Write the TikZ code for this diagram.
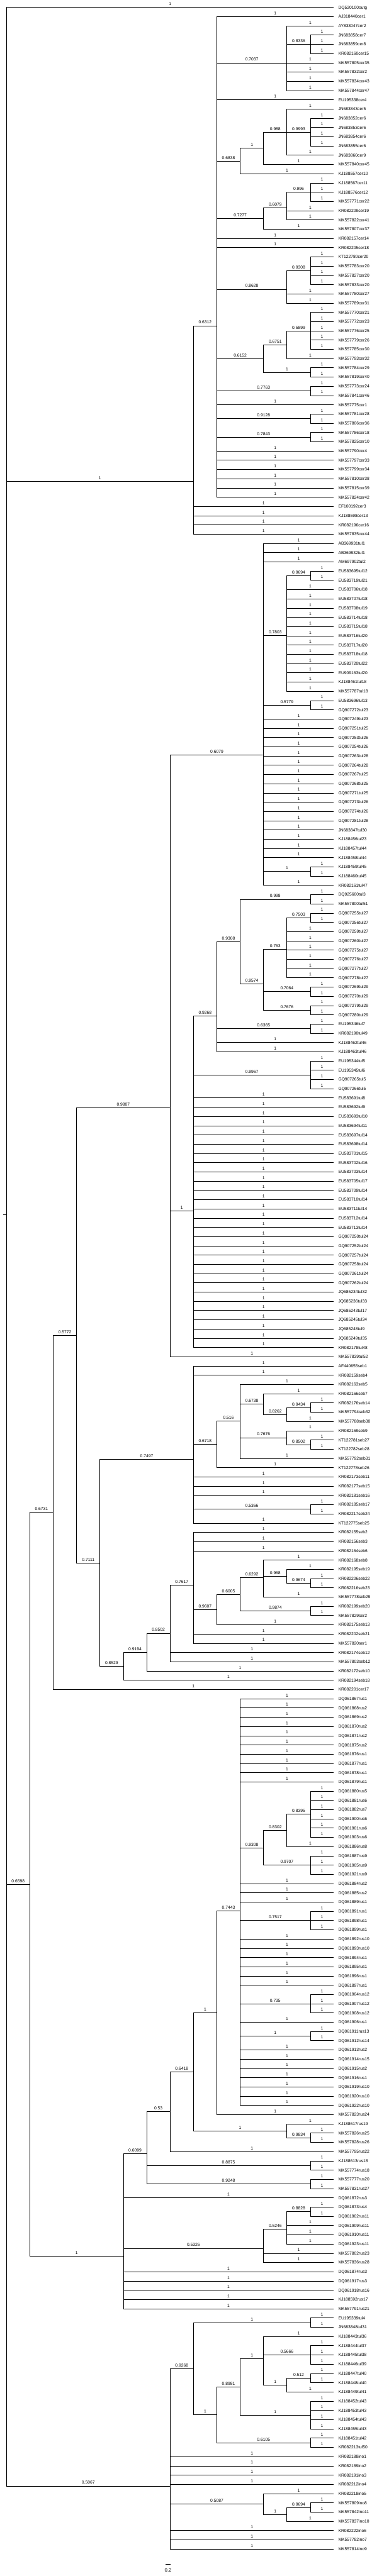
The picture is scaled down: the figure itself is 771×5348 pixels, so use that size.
\documentclass[tikz,border=0pt]{standalone}
\usepackage{fontspec}
\setmainfont{Liberation Sans}
\usetikzlibrary{calc}
\tikzset{
  edge/.style={line width=0.75pt, black},
  blab/.style={pos=0.75, anchor=base, yshift=2.9pt, inner sep=0pt, font=\fontsize{6.6}{7}\selectfont},
  leaflab/.style={anchor=base west, xshift=7pt, yshift=-2.36pt, inner sep=0pt, font=\fontsize{6.6}{7}\selectfont},
}
% #1 = clade name, #2 = list of child/label
\newcommand\clade[2]{%
  \gdef\cym{0}\gdef\ccnt{0}\gdef\cxmin{9000}%
  \foreach \chld/\blb in {#2}{%
    \path let \p1=(\chld) in \pgfextra{%
      \pgfmathsetmacro\ctmp{\ccnt+1}\xdef\ccnt{\ctmp}%
      \pgfmathsetmacro\ctmp{\cym+(\y1-\cym)/\ccnt}\xdef\cym{\ctmp}%
      \pgfmathsetmacro\ctmp{min(\cxmin,\x1)}\xdef\cxmin{\ctmp}%
    };%
  }%
  \pgfmathsetmacro\cxp{\cxmin-36.3675}%
  \coordinate (#1) at (\cxp pt,\cym pt);%
  \foreach \chld/\blb in {#2}{\draw[edge] (#1) |- node[blab]{\blb} (\chld);}%
}
\begin{document}
\begin{tikzpicture}[x=0.75pt,y=-0.75pt]
\fill[white] (0,0) rectangle (771,5348);
\useasboundingbox (0,0) rectangle (771,5348);
% leaves
\foreach \lab [count=\i from 0] in {DQ520100outg,AJ318440cer1,AY833047cer2,JN683858cer7,JN683859cer8,KR082160cer15,MK557805cer35,MK557832cer2,MK557834cer43,MK557844cer47,
EU195338cer4,JN683843cer5,JN683852cer6,JN683853cer6,JN683854cer6,JN683855cer6,JN683860cer9,MK557840cer45,KJ188557cer10,KJ188567cer11,
KJ188576cer12,MK557771cer22,KR082209cer19,MK557822cer41,MK557807cer37,KR082157cer14,KR082205cer18,KT122780cer20,MK557783cer20,MK557827cer20,
MK557833cer20,MK557780cer27,MK557789cer31,MK557770cer21,MK557772cer23,MK557776cer25,MK557779cer26,MK557785cer30,MK557793cer32,MK557784cer29,
MK557819cer40,MK557773cer24,MK557841cer46,MK557775cer1,MK557781cer28,MK557806cer36,MK557786cer18,MK557825cer10,MK557790cer4,MK557797cer33,
MK557799cer34,MK557810cer38,MK557815cer39,MK557824cer42,EF100192cer3,KJ188598cer13,KR082196cer16,MK557835cer44,AB369931tul1,AB369932tul1,
AM697902tul2,EU583695tul12,EU583719tul21,EU583706tul18,EU583707tul18,EU583708tul19,EU583714tul18,EU583715tul18,EU583716tul20,EU583717tul20,
EU583718tul18,EU583720tul22,EU909163tul20,KJ188461tul18,MK557787tul18,EU583696tul13,GQ907272tul23,GQ907249tul23,GQ907251tul25,GQ907253tul26,
GQ907254tul26,GQ907263tul28,GQ907264tul28,GQ907267tul25,GQ907268tul25,GQ907271tul25,GQ907273tul26,GQ907274tul26,GQ907281tul28,JN683847tul30,
KJ188456tul23,KJ188457tul44,KJ188458tul44,KJ188459tul45,KJ188460tul45,KR082161tul47,DQ925600tul3,MK557800tul51,GQ907255tul27,GQ907256tul27,
GQ907259tul27,GQ907260tul27,GQ907275tul27,GQ907276tul27,GQ907277tul27,GQ907278tul27,GQ907269tul29,GQ907270tul29,GQ907279tul29,GQ907280tul29,
EU195346tul7,KR082190tul49,KJ188462tul46,KJ188463tul46,EU195344tul5,EU195345tul6,GQ907265tul5,GQ907266tul5,EU583691tul8,EU583692tul9,
EU583693tul10,EU583694tul11,EU583697tul14,EU583698tul14,EU583701tul15,EU583702tul16,EU583703tul14,EU583705tul17,EU583709tul14,EU583710tul14,
EU583711tul14,EU583712tul14,EU583713tul14,GQ907250tul24,GQ907252tul24,GQ907257tul24,GQ907258tul24,GQ907261tul24,GQ907262tul24,JQ685234tul32,
JQ685236tul33,JQ685243tul17,JQ685245tul34,JQ685248tul9,JQ685249tul35,KR082178tul48,MK557839tul52,AF440655seb1,KR082159seb4,KR082163seb5,
KR082166seb7,KR082176seb14,MK557794seb32,MK557788seb30,KR082169seb9,KT122781seb27,KT122782seb28,MK557792seb31,KT122778seb26,KR082173seb11,
KR082177seb15,KR082181seb16,KR082185seb17,KR082217seb24,KT122775seb25,KR082155seb2,KR082156seb3,KR082164seb6,KR082168seb8,KR082195seb19,
KR082206seb22,KR082216seb23,MK557778seb29,KR082199seb20,MK557829ser2,KR082175seb13,KR082202seb21,MK557820ser1,KR082174seb12,MK557803seb12,
KR082172seb10,KR082194seb18,KR082201cer17,DQ061867rus1,DQ061868rus2,DQ061869rus2,DQ061870rus2,DQ061871rus2,DQ061875rus2,DQ061876rus1,
DQ061877rus1,DQ061878rus1,DQ061879rus1,DQ061880rus5,DQ061881rus6,DQ061882rus7,DQ061900rus6,DQ061901rus6,DQ061903rus6,DQ061886rus8,
DQ061887rus9,DQ061905rus9,DQ061921rus9,DQ061884rus2,DQ061885rus2,DQ061889rus1,DQ061891rus1,DQ061898rus1,DQ061899rus1,DQ061892rus10,
DQ061893rus10,DQ061894rus1,DQ061895rus1,DQ061896rus1,DQ061897rus1,DQ061904rus12,DQ061907rus12,DQ061908rus12,DQ061906rus1,DQ061911rus13,
DQ061912rus14,DQ061913rus2,DQ061914rus15,DQ061915rus2,DQ061916rus1,DQ061919rus10,DQ061920rus10,DQ061922rus10,MK557823rus24,KJ188617rus19,
MK557826rus25,MK557828rus26,MK557795rus22,KJ188613rus18,MK557774rus18,MK557777rus20,MK557831rus27,DQ061872rus3,DQ061873rus4,DQ061902rus11,
DQ061909rus11,DQ061910rus11,DQ061923rus11,MK557802rus23,MK557836rus28,DQ061874rus3,DQ061917rus3,DQ061918rus16,KJ188592rus17,MK557791rus21,
EU195339tul4,JN683848tul31,KJ188443tul36,KJ188444tul37,KJ188445tul38,KJ188446tul39,KJ188447tul40,KJ188448tul40,KJ188449tul41,KJ188452tul43,
KJ188453tul43,KJ188454tul43,KJ188455tul43,KJ188451tul42,KR082213tul50,KR082188ino1,KR082189ino2,KR082191ino3,KR082212ino4,KR082218ino5,
MK557809ino8,MK557842ino11,MK557837ino10,KR082222ino6,MK557782ino7,MK557814ino9}{%
  \coordinate (t\i) at ({692.2},{15.3+19.188*\i});
  \node[leaflab] (L\i) at (t\i) {\lab};
}
% ---- cer clade
\clade{a8336}{t3/1,t4/1,t5/1}
\clade{a7037}{t2/1,a8336/0.8336,t6/1,t7/1,t8/1,t9/1}
\clade{a9993}{t12/1,t13/1,t14/1,t15/1}
\clade{a988}{t11/1,a9993/0.9993,t16/1}
\clade{ac1}{a988/0.988,t17/1}
\clade{a6838}{ac1/1,t18/1}
\clade{a996}{t19/1,t20/1,t21/1}
\clade{a6079}{a996/0.996,t22/1,t23/1}
\clade{a7277}{a6079/0.6079,t24/1}
\clade{a9308}{t27/1,t28/1,t29/1,t30/1}
\clade{a8628}{a9308/0.9308,t31/1,t32/1}
\clade{a5899}{t33/1,t34/1,t35/1,t36/1,t37/1}
\clade{a6751}{a5899/0.5899,t38/1}
\clade{ac2}{t39/1,t40/1}
\clade{a6152}{a6751/0.6751,ac2/1}
\clade{a7763}{t41/1,t42/1}
\clade{a9128}{t44/1,t45/1}
\clade{a7843}{t46/1,t47/1}
\clade{a6312}{t1/1,a7037/0.7037,t10/1,a6838/0.6838,a7277/0.7277,t25/1,t26/1,a8628/0.8628,a6152/0.6152,a7763/0.7763,t43/1,a9128/0.9128,a7843/0.7843,t48/1,t49/1,t50/1,t51/1,t52/1,t53/1}
\clade{cladeA}{a6312/0.6312,t54/1,t55/1,t56/1,t57/1}
% ---- tul clade
\clade{b9694}{t61/1,t62/1}
\clade{b7803}{b9694/0.9694,t63/1,t64/1,t65/1,t66/1,t67/1,t68/1,t69/1,t70/1,t71/1,t72/1,t73/1,t74/1}
\clade{b5779}{t75/1,t76/1}
\clade{bc1}{t93/1,t94/1}
\clade{bT1}{t58/1,t59/1,t60/1,b7803/0.7803,b5779/0.5779,t77/1,t78/1,t79/1,t80/1,t81/1,t82/1,t83/1,t84/1,t85/1,t86/1,t87/1,t88/1,t89/1,t90/1,t91/1,t92/1,bc1/1,t95/1}
\clade{b998}{t96/1,t97/1}
\clade{b7503}{t98/1,t99/1}
\clade{b763}{b7503/0.7503,t100/1,t101/1,t102/1,t103/1,t104/1,t105/1}
\clade{b7064}{t106/1,t107/1}
\clade{b7676}{t108/1,t109/1}
\clade{b9574}{b763/0.763,b7064/0.7064,b7676/0.7676}
\clade{b9308}{b998/0.998,b9574/0.9574}
\clade{b6365}{t110/1,t111/1}
\clade{b9268}{b9308/0.9308,b6365/0.6365,t112/1,t113/1}
\clade{b9967}{t114/1,t115/1,t116/1,t117/1}
\clade{bT2}{b9268/0.9268,b9967/0.9967,t118/1,t119/1,t120/1,t121/1,t122/1,t123/1,t124/1,t125/1,t126/1,t127/1,t128/1,t129/1,t130/1,t131/1,t132/1,t133/1,t134/1,t135/1,t136/1,t137/1,t138/1,t139/1,t140/1,t141/1,t142/1,t143/1,t144/1,t145/1}
\clade{bT0}{bT1/0.6079,bT2/1,t146/1}
% ---- seb clade
\clade{c9434}{t151/1,t152/1}
\clade{c8262}{c9434/0.9434,t153/1}
\clade{c6738}{t150/1,c8262/0.8262}
\clade{c8502}{t155/1,t156/1}
\clade{c7676}{t154/1,c8502/0.8502}
\clade{c516}{t149/1,c6738/0.6738,c7676/0.7676,t157/1}
\clade{c6718}{c516/0.516,t158/1}
\clade{c5366}{t162/1,t163/1}
\clade{c7497}{t147/1,t148/1,c6718/0.6718,t159/1,t160/1,t161/1,c5366/0.5366,t164/1}
\clade{c9674}{t170/1,t171/1}
\clade{c968}{t169/1,c9674/0.9674}
\clade{c6292}{t168/1,c968/0.968,t172/1}
\clade{c9874}{t173/1,t174/1}
\clade{c6005}{c6292/0.6292,c9874/0.9874}
\clade{c9607}{c6005/0.6005,t175/1}
\clade{c7617}{t165/1,t166/1,t167/1,c9607/0.9607,t176/1,t177/1}
\clade{c8502b}{c7617/0.7617,t178/1,t179/1}
\clade{c9194}{c8502b/0.8502,t180/1}
\clade{c8529}{c9194/0.9194,t181/1}
\clade{cS4}{c7497/0.7497,c8529/0.8529}
\clade{cS3}{bT0/0.9807,cS4/0.7111}
\clade{cS2}{cS3/0.5772,t182/1}
% ---- rus clade
\clade{d8395}{t193/1,t194/1,t195/1,t196/1,t197/1,t198/1}
\clade{d8302}{d8395/0.8395,t199/1}
\clade{d9707}{t200/1,t201/1,t202/1}
\clade{d9308}{d8302/0.8302,d9707/0.9707}
\clade{d7517}{t206/1,t207/1,t208/1}
\clade{d735}{t215/1,t216/1,t217/1}
\clade{dc1}{t219/1,t220/1}
\clade{d7443}{t183/1,t184/1,t185/1,t186/1,t187/1,t188/1,t189/1,t190/1,t191/1,t192/1,d9308/0.9308,t203/1,t204/1,t205/1,d7517/0.7517,t209/1,t210/1,t211/1,t212/1,t213/1,t214/1,d735/0.735,t218/1,dc1/1,t221/1,t222/1,t223/1,t224/1,t225/1,t226/1,t227/1}
\clade{dR9}{d7443/0.7443,t228/1}
\clade{d9834}{t230/1,t231/1}
\clade{dR12}{t229/1,d9834/0.9834}
\clade{d6418}{dR9/1,dR12/1}
\clade{d53}{d6418/0.6418,t232/1}
\clade{d8875}{t233/1,t234/1}
\clade{d9248}{t235/1,t236/1}
\clade{d6099}{d53/0.53,d8875/0.8875,d9248/0.9248}
\clade{d8828}{t238/1,t239/1}
\clade{d5246}{d8828/0.8828,t240/1,t241/1,t242/1}
\clade{d5326}{d5246/0.5246,t243/1,t244/1}
\clade{dR5}{d6099/0.6099,t237/1,d5326/0.5326,t245/1,t246/1,t247/1,t248/1,t249/1}
\clade{dS1}{cS2/0.6731,dR5/1}
% ---- ino clade
\clade{e1a}{t250/1,t251/1}
\clade{e5666}{t253/1,t254/1,t255/1}
\clade{e512}{t256/1,t257/1}
\clade{eV12}{e512/0.512,t258/1}
\clade{eV11}{t252/1,e5666/0.5666,eV12/1}
\clade{e1b}{t259/1,t260/1,t261/1,t262/1}
\clade{e8981}{eV11/1,e1b/1}
\clade{e6105}{t263/1,t264/1}
\clade{eU9}{e8981/0.8981,e6105/0.6105}
\clade{e9268}{e1a/1,eU9/1}
\clade{e9694}{t270/1,t271/1}
\clade{e1c}{e9694/0.9694,t272/1}
\clade{e5087}{t269/1,e1c/1}
\clade{eU7}{e9268/0.9268,t265/1,t266/1,t267/1,t268/1,e5087/0.5087,t273/1,t274/1,t275/1}
% ---- root
\clade{root}{t0/1,cladeA/1,dS1/0.6598,eU7/0.5067}
\coordinate (rootstub) at ([xshift=-5.5pt]root);
\draw[edge] (root) -- (rootstub);
% scale bar
\coordinate (sbA) at (343.9,5323.3);
\coordinate (sbB) at (353.7,5323.3);
\draw[edge] (sbA) -- (sbB);
\node[inner sep=0pt, font=\fontsize{7.7}{8}\selectfont] (sblab) at (348.8,5335.3) {0.2};
\end{tikzpicture}
\end{document}
